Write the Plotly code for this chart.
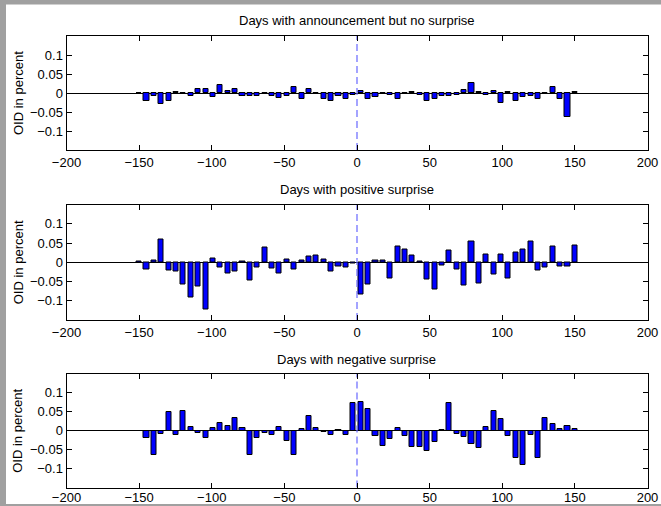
import numpy as np
import plotly.graph_objects as go
from plotly.subplots import make_subplots

# bar positions (days relative to announcement): 60 evenly spaced bars from -150 to 150
days = np.linspace(-150, 150, 60)

no_surprise = [
    -0.001, -0.022, -0.009, -0.028, -0.020, 0.003, -0.002, -0.007, 0.011, 0.011,
    -0.010, 0.022, 0.004, 0.010, -0.009, -0.008, -0.008, -0.002, -0.007, -0.014,
    -0.008, 0.015, -0.015, 0.011, -0.002, -0.017, -0.022, -0.009, -0.017, -0.005,
    0.006, -0.017, -0.010, -0.002, -0.004, -0.016, -0.002, 0.003, -0.004, -0.022,
    -0.015, -0.008, -0.008, -0.005, 0.009, 0.027, 0.002, -0.004, 0.004, -0.027,
    0.003, -0.022, -0.010, -0.008, -0.017, -0.002, 0.017, -0.016, -0.062, 0.002,
]

positive_surprise = [
    0.001, -0.018, 0.005, 0.060, -0.021, -0.025, -0.057, -0.092, -0.064, -0.122,
    0.009, -0.014, -0.030, -0.025, 0.003, -0.047, -0.014, 0.039, -0.015, -0.029,
    0.006, -0.020, 0.005, 0.016, 0.017, 0.007, -0.025, -0.010, -0.013, -0.004,
    -0.085, -0.057, 0.004, 0.005, -0.043, 0.040, 0.033, 0.018, 0.002, -0.044,
    -0.070, -0.009, 0.030, -0.019, -0.061, 0.053, -0.056, 0.019, -0.031, 0.020,
    -0.041, 0.025, 0.033, 0.054, -0.022, -0.013, 0.042, -0.010, -0.010, 0.044,
]

negative_surprise = [
    0.000, -0.018, -0.065, -0.008, 0.050, -0.010, 0.052, 0.010, -0.005, -0.018,
    0.007, 0.021, 0.012, 0.033, 0.008, -0.063, -0.018, -0.005, -0.012, 0.011,
    -0.027, -0.063, 0.005, 0.039, 0.008, -0.004, -0.010, 0.003, -0.010, 0.073,
    0.077, 0.057, -0.013, -0.040, -0.022, 0.007, -0.015, -0.043, -0.043, -0.054,
    -0.029, 0.003, 0.074, -0.008, -0.016, -0.036, -0.046, 0.011, 0.051, 0.031,
    -0.013, -0.072, -0.090, -0.012, -0.072, 0.033, 0.018, 0.004, 0.013, 0.004,
]

titles = [
    "Days with announcement but no surprise",
    "Days with positive surprise",
    "Days with negative surprise",
]
series = [no_surprise, positive_surprise, negative_surprise]

x_ticks = [-200, -150, -100, -50, 0, 50, 100, 150, 200]
x_ticktext = ["\u2212200", "\u2212150", "\u2212100", "\u221250", "0", "50", "100", "150", "200"]
y_ticks = [-0.1, -0.05, 0, 0.05, 0.1]
y_ticktext = ["\u22120.1", "\u22120.05", "0", "0.05", "0.1"]
y_label = "OID in percent"

W, H = 661, 506
FONT = "Liberation Sans, Arial, Helvetica, sans-serif"

fig = make_subplots(rows=3, cols=1)

# axes boxes in pixels (left, right, top, bottom)
x_left, x_right = 66.5, 647.5
boxes = [(36, 150), (204.5, 320), (374, 487.5)]

for i, (vals, title) in enumerate(zip(series, titles)):
    r = i + 1
    fig.add_trace(
        go.Bar(
            x=days, y=vals, width=3.5,
            marker=dict(color="#0000ff", line=dict(color="black", width=1)),
            showlegend=False,
        ),
        row=r, col=1,
    )
    fig.add_trace(
        go.Scatter(
            x=[0, 0], y=[-0.15, 0.15], mode="lines",
            line=dict(color="rgba(100,100,255,0.9)", width=1.3, dash="7px,4px"),
            showlegend=False, hoverinfo="skip",
        ),
        row=r, col=1,
    )
    top, bot = boxes[i]
    ydom = [(H - bot) / H, (H - top) / H]
    xname = "xaxis" if r == 1 else f"xaxis{r}"
    yname = "yaxis" if r == 1 else f"yaxis{r}"
    fig.layout[xname].update(
        domain=[x_left / W, x_right / W], range=[-200, 200],
        tickvals=x_ticks, ticktext=x_ticktext, automargin=False,
        ticks="inside", ticklen=5, tickcolor="black", tickwidth=1,
        showline=True, linecolor="black", linewidth=1, mirror="ticks",
        showgrid=False, zeroline=False,
        tickfont=dict(family=FONT, size=13, color="black"),
    )
    if r == 3:
        fig.layout[xname].update(ticklabelstandoff=-2)
    fig.layout[yname].update(
        domain=ydom, range=[-0.15, 0.15],
        tickvals=y_ticks, ticktext=y_ticktext, automargin=False,
        ticks="inside", ticklen=5, tickcolor="black", tickwidth=1,
        showline=True, linecolor="black", linewidth=1, mirror="ticks",
        showgrid=False, zeroline=True, zerolinecolor="black", zerolinewidth=1,
        tickfont=dict(family=FONT, size=13, color="black"),
    )
    fig.add_annotation(
        text=title, xref="paper", yref="paper",
        x=(x_left + x_right) / 2 / W, y=(H - (top - 15)) / H,
        showarrow=False, xanchor="center", yanchor="middle",
        font=dict(family=FONT, size=13, color="black"),
    )
    fig.add_annotation(
        text=y_label, xref="paper", yref="paper",
        x=18 / W, y=(H - (top + bot) / 2) / H, textangle=-90,
        showarrow=False, xanchor="center", yanchor="middle",
        font=dict(family=FONT, size=13, color="black"),
    )

# grey figure frame strips (MATLAB window edge)
grey = "#a0a0a0"
fig.add_shape(type="rect", xref="paper", yref="paper", x0=0, x1=6 / W, y0=0, y1=1,
              fillcolor=grey, line=dict(width=0), layer="above")
fig.add_shape(type="rect", xref="paper", yref="paper", x0=0, x1=1, y0=(H - 4.5) / H, y1=1,
              fillcolor=grey, line=dict(width=0), layer="above")
fig.add_shape(type="rect", xref="paper", yref="paper", x0=0, x1=1, y0=0, y1=2 / H,
              fillcolor=grey, line=dict(width=0), layer="below")

fig.update_layout(
    width=W, height=H,
    margin=dict(l=0, r=0, t=0, b=0, autoexpand=False),
    paper_bgcolor="white", plot_bgcolor="white",
    bargap=0, barmode="overlay",
    font=dict(family=FONT, size=13, color="black"),
)

fig.write_html("out.html")
